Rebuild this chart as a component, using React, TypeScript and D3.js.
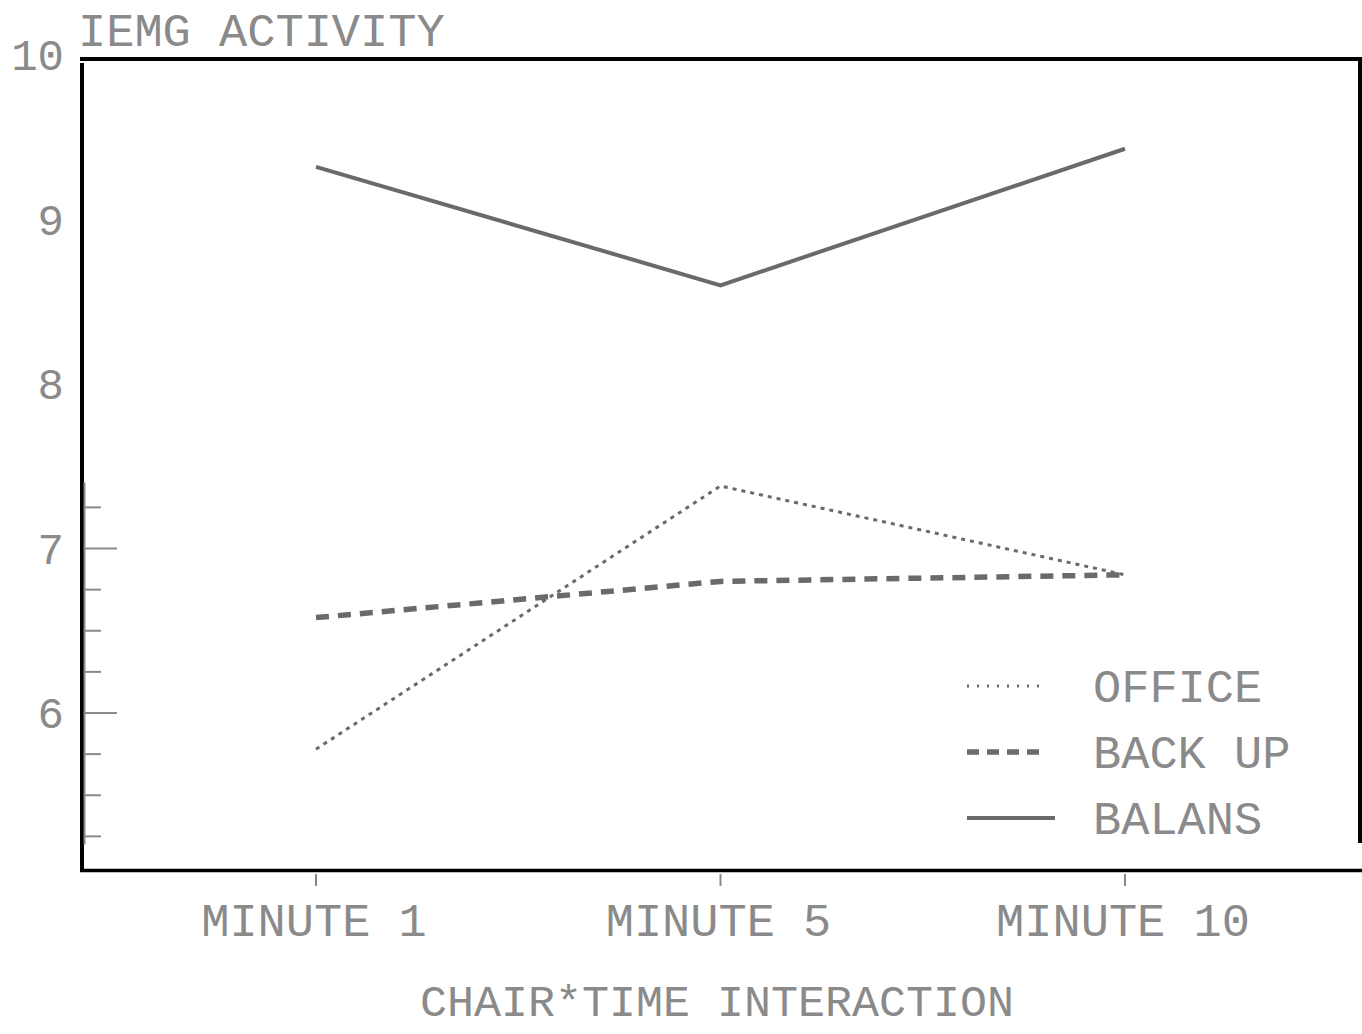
import React from "react";
import * as d3 from "d3";

const categories = ["MINUTE 1", "MINUTE 5", "MINUTE 10"];
const office = [5.78, 7.38, 6.84];
const backUp = [6.58, 6.8, 6.84];
const balans = [9.32, 8.6, 9.43];
const yTickLabels = [10, 9, 8, 7, 6];
const minorTicks = [7.25, 7, 6.75, 6.5, 6.25, 6, 5.75, 5.5, 5.25];
const majorTicks = [7, 6];
const legendItems = ["OFFICE", "BACK UP", "BALANS"];

const W = 1362;
const H = 1034;
const FONT = "'Liberation Mono', 'DejaVu Sans Mono', monospace";
const INK = "#8a8a8a";
const LINE = "#6a6a6a";

export default function App() {
  const x = d3.scalePoint<string>().domain(categories).range([316, 1125]);
  const y = d3.scaleLinear().domain([6, 10]).range([713, 55]);
  const line = d3
    .line<number>()
    .x((_, i) => x(categories[i]) as number)
    .y((d) => y(d));

  const series = [
    { name: legendItems[0], values: office, width: 3, dash: "4 5" },
    { name: legendItems[1], values: backUp, width: 5.5, dash: "13 9" },
    { name: legendItems[2], values: balans, width: 4, dash: "none" },
  ];

  const legendY = [686, 752, 818];

  return (
    <svg
      width={W}
      height={H}
      style={{ position: "absolute", left: 0, top: 0, background: "#fff" }}
    >
      <rect x={0} y={0} width={W} height={H} fill="#fff" />
      {/* frame */}
      <line x1={80} y1={59} x2={1362} y2={59} stroke="#000" strokeWidth={4} />
      <line x1={82} y1={63} x2={82} y2={872} stroke="#000" strokeWidth={4} />
      <line x1={1360} y1={61} x2={1360} y2={843} stroke="#000" strokeWidth={4} />
      <line x1={80} y1={870.5} x2={1362} y2={870.5} stroke="#000" strokeWidth={3.5} />

      {/* inner gray y axis */}
      <line x1={84.5} y1={y(7.4)} x2={84.5} y2={y(5.2)} stroke={INK} strokeWidth={2} />
      {minorTicks.map((t) => (
        <line
          key={t}
          x1={84}
          x2={majorTicks.includes(t) ? 117 : 101}
          y1={y(t)}
          y2={y(t)}
          stroke={INK}
          strokeWidth={2}
        />
      ))}
      {yTickLabels.map((t) => (
        <text
          key={t}
          x={64}
          y={y(t)}
          dy="0.35em"
          textAnchor="end"
          fontFamily={FONT}
          fontSize={44}
          fill={INK}
        >
          {t}
        </text>
      ))}

      {/* x ticks and labels */}
      {categories.map((c) => (
        <g key={c}>
          <line
            x1={x(c)}
            x2={x(c)}
            y1={874}
            y2={886}
            stroke={INK}
            strokeWidth={2}
          />
          <text
            x={(x(c) as number) - 2}
            y={936}
            textAnchor="middle"
            fontFamily={FONT}
            fontSize={47}
            fill={INK}
          >
            {c}
          </text>
        </g>
      ))}

      <text x={78} y={46} fontFamily={FONT} fontSize={47} fill={INK}>
        IEMG ACTIVITY
      </text>
      <text
        x={717}
        y={1016}
        textAnchor="middle"
        fontFamily={FONT}
        fontSize={45}
        fill={INK}
      >
        CHAIR*TIME INTERACTION
      </text>

      {/* series */}
      {series.map((s) => (
        <path
          key={s.name}
          d={line(s.values) || ""}
          fill="none"
          stroke={LINE}
          strokeWidth={s.width}
          strokeDasharray={s.dash}
        />
      ))}

      {/* legend */}
      {series.map((s, i) => (
        <g key={s.name}>
          <line
            x1={967}
            x2={i === 2 ? 1055 : 1043}
            y1={legendY[i]}
            y2={legendY[i]}
            stroke={LINE}
            strokeWidth={s.width}
            strokeDasharray={i === 0 ? "2 8" : i === 1 ? "12 8" : "none"}
          />
          <text
            x={1093}
            y={legendY[i]}
            dy="0.35em"
            fontFamily={FONT}
            fontSize={47}
            fill={INK}
          >
            {s.name}
          </text>
        </g>
      ))}
    </svg>
  );
}
